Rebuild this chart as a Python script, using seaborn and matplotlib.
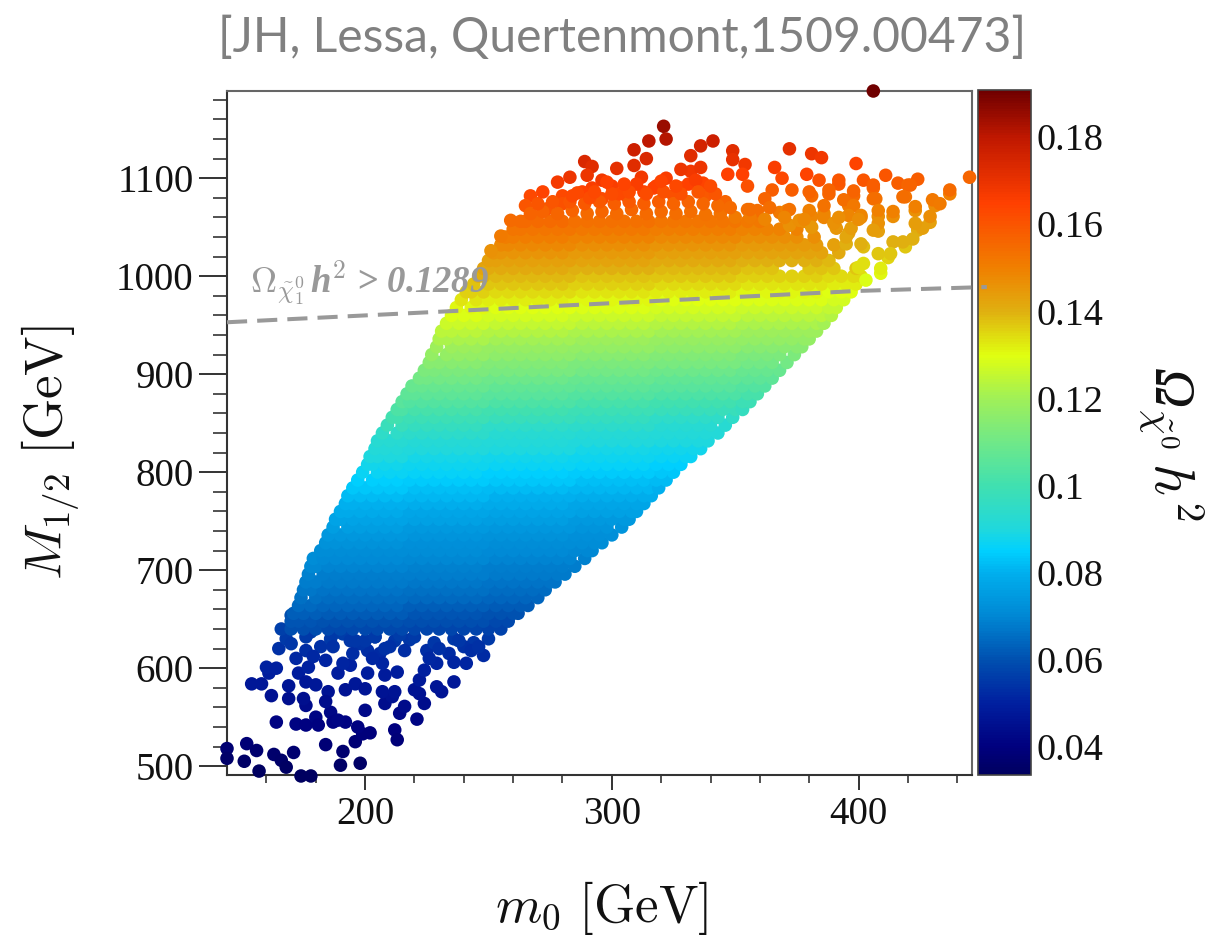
import numpy as np
import pandas as pd
import seaborn as sns
import matplotlib.pyplot as plt
from matplotlib.colors import LinearSegmentedColormap, Normalize
from matplotlib.cm import ScalarMappable
from matplotlib.ticker import MultipleLocator

## Data ##

# dense part of the cloud, row by row
row_M = [640,648,656,664,672,680,688,696,704,712,720,728,736,744,752,760,768,776,784,792,800,808,816,824,832,840,848,
         856,864,872,880,888,896,904,912,920,928,936,944,952,960,968,976,984,992,1000,1008,1016,1024,1032,1040,1048,1056]
row_m0 = [
 [170,175,180,185,190,195,200,205,210,215,220,225,230,235,240,245,250,255],
 [170,173,178,183,188,193,198,203,208,213,218,223,228,233,238,243,248,253,258],
 [171,175,180,185,190,195,200,205,210,215,220,225,230,235,240,245,250,255,260,262],
 [173,178,183,188,193,198,203,208,213,218,223,228,233,238,243,248,253,258,263,266],
 [174,180,185,190,195,200,205,210,215,220,225,230,235,240,245,250,255,260,265,270],
 [175,178,183,188,193,198,203,208,213,218,223,228,233,238,243,248,253,258,263,268,273],
 [176,180,185,190,195,200,205,210,215,220,225,230,235,240,245,250,255,260,265,270,275,277],
 [177,183,188,193,198,203,208,213,218,223,228,233,238,243,248,253,258,263,268,273,278,281],
 [178,180,185,190,195,200,205,210,215,220,225,230,235,240,245,250,255,260,265,270,275,280,285],
 [179,183,188,193,198,203,208,213,218,223,228,233,238,243,248,253,258,263,268,273,278,283,289],
 [182,185,190,195,200,205,210,215,220,225,230,235,240,245,250,255,260,265,270,275,280,285,290,292],
 [184,188,193,198,203,208,213,218,223,228,233,238,243,248,253,258,263,268,273,278,283,288,293,296],
 [185,190,195,200,205,210,215,220,225,230,235,240,245,250,255,260,265,270,275,280,285,290,295,300],
 [187,193,198,203,208,213,218,223,228,233,238,243,248,253,258,263,268,273,278,283,288,293,298,304],
 [188,190,195,200,205,210,215,220,225,230,235,240,245,250,255,260,265,270,275,280,285,290,295,300,305,307],
 [190,193,198,203,208,213,218,223,228,233,238,243,248,253,258,263,268,273,278,283,288,293,298,303,308,310],
 [192,195,200,205,210,215,220,225,230,235,240,245,250,255,260,265,270,275,280,285,290,295,300,305,310,313],
 [193,198,203,208,213,218,223,228,233,238,243,248,253,258,263,268,273,278,283,288,293,298,303,308,313,316],
 [195,200,205,210,215,220,225,230,235,240,245,250,255,260,265,270,275,280,285,290,295,300,305,310,315,319],
 [197,203,208,213,218,223,228,233,238,243,248,253,258,263,268,273,278,283,288,293,298,303,308,313,318,322],
 [199,205,210,215,220,225,230,235,240,245,250,255,260,265,270,275,280,285,290,295,300,305,310,315,320,325],
 [201,203,208,213,218,223,228,233,238,243,248,253,258,263,268,273,278,283,288,293,298,303,308,313,318,323,328],
 [202,205,210,215,220,225,230,235,240,245,250,255,260,265,270,275,280,285,290,295,300,305,310,315,320,325,330,332],
 [204,208,213,218,223,228,233,238,243,248,253,258,263,268,273,278,283,288,293,298,303,308,313,318,323,328,333,336],
 [205,210,215,220,225,230,235,240,245,250,255,260,265,270,275,280,285,290,295,300,305,310,315,320,325,330,335,339],
 [207,213,218,223,228,233,238,243,248,253,258,263,268,273,278,283,288,293,298,303,308,313,318,323,328,333,338,343],
 [209,215,220,225,230,235,240,245,250,255,260,265,270,275,280,285,290,295,300,305,310,315,320,325,330,335,340,346],
 [211,213,218,223,228,233,238,243,248,253,258,263,268,273,278,283,288,293,298,303,308,313,318,323,328,333,338,343,349],
 [213,215,220,225,230,235,240,245,250,255,260,265,270,275,280,285,290,295,300,305,310,315,320,325,330,335,340,345,350,353],
 [215,218,223,228,233,238,243,248,253,258,263,268,273,278,283,288,293,298,303,308,313,318,323,328,333,338,343,348,353,356],
 [217,220,225,230,235,240,245,250,255,260,265,270,275,280,285,290,295,300,305,310,315,320,325,330,335,340,345,350,355,359],
 [219,223,228,233,238,243,248,253,258,263,268,273,278,283,288,293,298,303,308,313,318,323,328,333,338,343,348,353,358,362],
 [222,225,230,235,240,245,250,255,260,265,270,275,280,285,290,295,300,305,310,315,320,325,330,335,340,345,350,355,360,365],
 [224,228,233,238,243,248,253,258,263,268,273,278,283,288,293,298,303,308,313,318,323,328,333,338,343,348,353,358,363,368],
 [226,230,235,240,245,250,255,260,265,270,275,280,285,290,295,300,305,310,315,320,325,330,335,340,345,350,355,360,365,371],
 [227,233,238,243,248,253,258,263,268,273,278,283,288,293,298,303,308,313,318,323,328,333,338,343,348,353,358,363,368,374],
 [229,235,240,245,250,255,260,265,270,275,280,285,290,295,300,305,310,315,320,325,330,335,340,345,350,355,360,365,370,375,377],
 [230,233,238,243,248,253,258,263,268,273,278,283,288,293,298,303,308,313,318,323,328,333,338,343,348,353,358,363,368,373,378,380],
 [231,235,240,245,250,255,260,265,270,275,280,285,290,295,300,305,310,315,320,325,330,335,340,345,350,355,360,365,370,375,380,383],
 [233,238,243,248,253,258,263,268,273,278,283,288,293,298,303,308,313,318,323,328,333,338,343,348,353,358,363,368,373,378,383,386],
 [235,240,245,250,255,260,265,270,275,280,285,290,295,300,305,310,315,320,325,330,335,340,345,350,355,360,365,370,375,380,385,389],
 [237,243,248,253,258,263,268,273,278,283,288,293,298,303,308,313,318,323,328,333,338,343,348,353,358,363,368,373,378,383,388,391],
 [239,245,250,255,260,265,270,275,280,285,290,295,300,305,310,315,320,325,330,335,340,345,350,355,360,365,370,375,380,385,390,394],
 [241,243,248,253,258,263,268,273,278,283,288,293,298,303,308,313,318,323,328,333,338,343,348,353,358,363,368,373,378,383,388,393,397],
 [244,250,255,260,265,270,275,280,285,290,295,300,305,310,315,320,325,330,335,340,345,350,355,360,365,370,375,380,385,390,395,399],
 [246,248,253,258,263,268,273,278,283,288,293,298,303,308,313,318,323,328,333,338,343,348,353,358,363,368,373,378,383,388,393,398,401],
 [248,250,255,260,265,270,275,280,285,290,295,300,305,310,315,320,325,330,335,340,345,350,355,360,365,380,385,390,399],
 [250,253,258,263,268,273,278,283,288,293,298,303,308,313,318,323,328,333,338,343,348,353,358,363,368,373,378,383,388],
 [252,255,260,265,270,275,280,285,290,295,300,305,310,315,320,325,330,335,340,345,350,355,360,365,370,375,380,385,392],
 [255,258,263,268,273,278,283,288,293,298,303,308,313,318,323,328,333,338,343,348,353,358,363,368,373,378,383,390],
 [257,260,265,270,275,280,285,290,295,300,305,310,315,320,325,330,335,340,345,350,355,360,365,370,375,382],
 [260,263,268,273,278,283,288,293,298,303,308,313,318,323,328,333,338,343,348,353,358,363,368,375],
 [263,265,270,275,280,285,290,295,300,305,310,315,320,325,330,335,340,345,350,355,360],
]
# omega along m0 = 250, one value every 4 GeV of M starting at 612
level_omega = [.0521,.0527,.0534,.0541,.0548,.0555,.0562,.0570,.0578,.0587,.0595,.0604,.0612,.0621,.0629,.0638,.0644,.0650,.0656,.0662,.0668,.0674,.0680,.0685,
               .0690,.0695,.0700,.0706,.0711,.0716,.0722,.0727,.0732,.0738,.0746,.0754,.0762,.0770,.0778,.0786,.0794,.0802,.0810,.0818,.0826,.0834,.0842,.0850,
               .0858,.0865,.0873,.0880,.0888,.0895,.0903,.0910,.0918,.0925,.0938,.0950,.0963,.0975,.0988,.1000,.1013,.1025,.1038,.1050,.1061,.1072,.1083,.1094,
               .1105,.1116,.1127,.1138,.1149,.1160,.1172,.1183,.1195,.1206,.1218,.1230,.1241,.1253,.1264,.1276,.1288,.1298,.1310,.1322,.1333,.1346,.1357,.1368,
               .1379,.1390,.1401,.1412,.1424,.1435,.1446,.1458,.1469,.1480,.1492,.1503,.1515,.1527,.1538,.1550,.1562,.1574,.1585]

# single points along the top of the cloud
top_m0 = [321,322,315,309,309,314,341,336,332,349,349,354,353,347,355,372,381,385,399,366,369,379,384,402,411,416,424,420,445,437,431,423,429,424,419,
          392,388,373,365,381,406,407,398,419,414,289,292,290,302,312,296,283,278,300,267,280,265,274,259,255,251,280,292,332,336,328,322,337,317,328,
          306,313,288,296,325,338,346,355,359,362,381,396,401,408,408,396,386,368,391,402,412,395,409,400,
          267,272,278,284,290,296,302,308,314,320,326,332,338,344,350,356,372,378,
          270,276,283,289,295,301,307,313,319,325,331,337,343,
          272,284,291,303,310,318,331,334,
          380,388,392,398,394,398,401,396,406,406,408,408,406,414,418,421,423,430,433,437,429,426,423,422,418,414,413,409,408,402,401,395,397,390,386,380,371,376,381,403,
          286,293,300,307,314,321,328,335,342,298,305,320,326,340,348,356,364,372,386,362,370,378,392,400]
top_M = [1153,1140,1138,1129,1113,1120,1138,1133,1123,1128,1119,1114,1104,1104,1092,1130,1125,1121,1115,1111,1100,1104,1098,1098,1103,1095,1099,1093,1101,1084,1072,1067,1055,1047,1030,
         1094,1084,1088,1088,1082,1090,1079,1082,1081,1061,1117,1112,1103,1110,1101,1098,1101,1096,1092,1082,1082,1072,1069,1057,1041,1026,1074,1090,1107,1111,1109,1100,1095,1090,1090,
         1082,1086,1086,1079,1082,1082,1076,1068,1067,1079,1061,1072,1060,1061,1046,1044,1060,1065,1049,1030,1019,1033,1003,1009,
         1064,1066,1064,1067,1064,1066,1064,1068,1064,1066,1064,1066,1063,1064,1060,1060,1052,1056,
         1074,1076,1076,1074,1076,1074,1076,1074,1076,1074,1076,1074,1072,
         1086,1082,1080,1084,1094,1092,1094,1098,
         1086,1088,1098,1087,1078,1072,1062,1062,1093,1079,1067,1054,1047,1066,1081,1093,1071,1078,1074,1088,1061,1049,1054,1038,1035,1035,1023,1008,1023,1013,1033,1040,1049,1054,1064,1067,1067,1057,1050,996,
         1085,1086,1084,1086,1084,1086,1084,1086,1084,1096,1094,1097,1092,1092,1070,1068,1070,1068,1072,1058,1060,1058,1060,1058]
top_omega = [.185,.181,.180,.177,.172,.174,.177,.175,.172,.172,.170,.168,.165,.165,.161,.171,.169,.168,.164,.166,.163,.164,.161,.160,.160,.158,.158,.156,.156,.150,.147,.146,.143,.141,.137,
             .159,.156,.158,.158,.155,.157,.153,.155,.153,.147,.174,.172,.169,.171,.168,.168,.169,.167,.166,.163,.163,.160,.159,.155,.151,.146,.161,.166,.168,.169,.169,.166,.164,.164,.163,
             .163,.164,.165,.162,.161,.159,.157,.154,.154,.157,.149,.151,.148,.147,.143,.143,.149,.152,.145,.138,.135,.140,.131,.134,
             .157,.157,.156,.157,.155,.156,.155,.156,.155,.155,.154,.154,.153,.153,.151,.151,.146,.147,
             .160,.160,.160,.159,.159,.158,.159,.158,.158,.157,.157,.156,.155,
             .164,.163,.162,.163,.166,.165,.165,.166,
             .157,.157,.160,.157,.154,.152,.149,.149,.158,.154,.150,.146,.144,.150,.154,.157,.150,.152,.151,.155,.147,.143,.144,.140,.140,.140,.137,.132,.137,.134,.140,.142,.144,.146,.149,.150,.150,.147,.145,.129,
             .163,.163,.162,.162,.162,.161,.161,.160,.160,.165,.164,.164,.163,.162,.155,.154,.154,.153,.153,.149,.149,.148,.147,.147]

# the one outlier at the frame
far_m0 = [406]
far_M = [1189]
far_omega = [.1905]

# single points at the bottom of the cloud
low_m0 = [144,144,151,152,156,157,163,166,168,171,174,178,184,191,190,198,196,199,202,197,212,213,221,200,164,172,176,180,181,186,187,192,189,
          214,216,208,211,207,212,224,222,220,231,236,229,222,176,175,169,169,162,154,158,161,160,164,173,177,176,180,185,184,192,196,200,201,208,213,189,194,
          184,165,168,166,170,176,182,178,180,191,201,206,207,224,229,241,248,234,225,218,191,198,187,
          172,186,194,204,212,220,228,236,244,250,240,230,216,208,200,
          172,179,187,195,203,210,226,236,243,238,246,170,176,196,204,214]
low_M = [518,508,505,523,516,495,512,506,499,514,490,490,522,515,501,503,525,533,534,540,537,527,548,557,545,543,542,550,542,555,545,545,547,
         554,561,564,571,576,576,564,574,578,576,586,581,588,562,569,569,582,572,584,584,595,601,600,595,601,586,583,576,566,578,584,579,595,593,596,595,603,
         608,620,630,640,654,618,622,637,651,605,618,615,605,598,605,605,613,615,618,629,635,625,635,
         645,630,628,632,628,632,626,630,626,630,622,620,618,620,628,
         610,612,622,615,610,622,610,606,618,628,622,625,632,628,632,634]
low_omega = [.0373,.0359,.0354,.0380,.0370,.0337,.0365,.0356,.0344,.0367,.0334,.0334,.0379,.0369,.0349,.0352,.0383,.0394,.0396,.0406,.0402,.0388,.0417,.0431,.0413,.0410,.0408,.0421,.0408,.0428,.0413,.0413,.0416,
             .0426,.0437,.0442,.0453,.0461,.0461,.0442,.0458,.0464,.0461,.0477,.0469,.0481,.0439,.0450,.0450,.0471,.0455,.0474,.0474,.0492,.0502,.0500,.0492,.0502,.0477,.0472,.0461,.0445,.0464,.0474,.0466,.0492,.0488,.0494,.0492,.0505,
             .0514,.0534,.0552,.0569,.0595,.0528,.0536,.0564,.0589,.0509,.0528,.0523,.0509,.0497,.0509,.0509,.0522,.0523,.0528,.0546,.0558,.0543,.0558,
             .0578,.0552,.0548,.0555,.0548,.0555,.0545,.0552,.0545,.0552,.0538,.0534,.0530,.0534,.0548,
             .0517,.0520,.0538,.0528,.0517,.0538,.0517,.0510,.0530,.0548,.0538,.0545,.0555,.0548,.0555,.0558]

# relic density limit
limit_m0 = [144,400,452]
limit_M = [953,985,989]

x_ticks = [200,300,400]
y_ticks = [500,600,700,800,900,1000,1100]
cbar_ticks = [.04,.06,.08,.1,.12,.14,.16,.18]
cbar_labels = ['0.04','0.06','0.08','0.1','0.12','0.14','0.16','0.18']

## Colours ##
stops = [(.0336,'#000060'),(.04,'#00007f'),(.05,'#0020a0'),(.06,'#0050b0'),(.07,'#0088d4'),(.08,'#00b0ee'),(.085,'#00d0ff'),
         (.09,'#20d8dc'),(.1,'#40e0b0'),(.11,'#70e888'),(.12,'#a0f058'),(.13,'#e0ff10'),(.14,'#e0b010'),(.15,'#f08000'),
         (.165,'#ff4000'),(.18,'#c01800'),(.1908,'#700000')]
norm = Normalize(.0336,.1908)
cmap = LinearSegmentedColormap.from_list('omega',[(norm(v),c) for v,c in stops])

sns.set_style('white')
plt.rcParams['font.family'] = 'Liberation Serif'
plt.rcParams['mathtext.fontset'] = 'cm'
plt.rcParams['text.color'] = '#111111'
plt.rcParams['xtick.labelcolor'] = '#111111'
plt.rcParams['ytick.labelcolor'] = '#111111'

## Tables ##
core_x,core_y,core_c = [],[],[]
for M,xs in zip(row_M,row_m0):
    for x in xs:
        # colour bands lean with m0, same lean as the limit line
        i = (M-612)//4 - (x-250)//34
        core_x.append(x)
        core_y.append(M)
        core_c.append(level_omega[min(max(i,0),len(level_omega)-1)])
df_core = pd.DataFrame({'m0':core_x,'M':core_y,'omega':core_c})
df_top = pd.DataFrame({'m0':top_m0,'M':top_M,'omega':top_omega})
df_low = pd.DataFrame({'m0':low_m0,'M':low_M,'omega':low_omega})
df_far = pd.DataFrame({'m0':far_m0,'M':far_M,'omega':far_omega})
df_all = pd.concat([df_low,df_core,df_top,df_far])

## Plot ##
W,H = 1225,935
fig = plt.figure(figsize=(W/100,H/100),dpi=100)
ax = fig.add_axes([227/W,1-775/H,745/W,684/H])
cax = fig.add_axes([978/W,1-775/H,53/W,685/H])
ax.set_zorder(2)  # limit line runs over the colour bar

sns.scatterplot(data=df_all,x='m0',y='M',hue='omega',palette=cmap,hue_norm=norm,s=95,
                linewidth=0,legend=False,ax=ax,clip_on=False,zorder=3)

sns.lineplot(x=limit_m0,y=limit_M,color='#999999',lw=2.9,ax=ax,zorder=4,
             dashes=(5,2.5),estimator=None,errorbar=None)
ax.lines[-1].set_clip_on(False)

ax.set_xlim(144,446)
ax.set_ylim(491,1189)
ax.set_xticks(x_ticks)
ax.set_yticks(y_ticks)
ax.xaxis.set_minor_locator(MultipleLocator(20))
ax.yaxis.set_minor_locator(MultipleLocator(20))
ax.tick_params(axis='x',which='major',length=11,width=1.4,color='#333333',labelsize=28,pad=4,bottom=True)
ax.tick_params(axis='x',which='minor',length=6,width=1.2,color='#333333',bottom=True)
ax.tick_params(axis='y',which='major',length=20,width=1.4,color='#333333',labelsize=28,pad=4,left=True)
ax.tick_params(axis='y',which='minor',length=10,width=1.2,color='#333333',left=True)
ax.set_xlabel('')
ax.set_ylabel('')
for side,spine in ax.spines.items():
    spine.set_color('#333333' if side in ('left','bottom') else '#666666')
    spine.set_linewidth(1.5)
ax.patch.set_alpha(0)

ax.text(153.5,983,r'$\Omega_{\tilde{\chi}_1^0}$',fontsize=26,color='#999999',zorder=5,va='baseline')
ax.text(177.5,983,r'h$^{\mathbf{2}}$ > 0.1289',fontsize=26.5,color='#999999',style='italic',weight='bold',zorder=5,va='baseline')

sm = ScalarMappable(norm=norm,cmap=cmap)
cb = fig.colorbar(sm,cax=cax)
cb.set_ticks(cbar_ticks)
cb.set_ticklabels(cbar_labels)
cax.tick_params(length=21,width=1.4,direction='in',color='#222222',labelsize=27.5,pad=4,right=True)
cb.outline.set_edgecolor('#444444')
cb.outline.set_linewidth(1.2)

fig.text(601/W,1-908/H,r'$m_0\ [\mathrm{GeV}]$',fontsize=38,ha='center',va='center')
fig.text(51/W,1-453/H,r'$M_{1/2}\ [\mathrm{GeV}]$',fontsize=38,rotation=90,ha='center',va='center')
fig.text(1170/W,1-443/H,r'Ω$_{\tilde{\chi}^0}\,h^2$',fontsize=40,rotation=-90,ha='center',va='center',style='italic')
fig.text(622/W,1-38/H,'[JH, Lessa, Quertenmont,1509.00473]',fontsize=34.6,family='Lato',ha='center',va='center',color='#808080')

fig.savefig('out.png',dpi=100)
